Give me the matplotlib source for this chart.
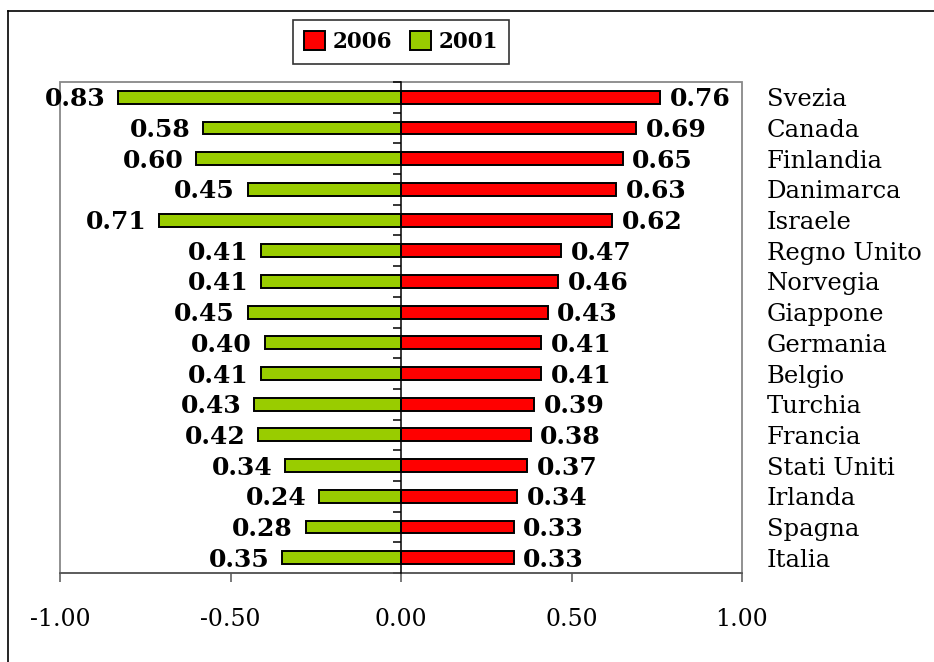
import matplotlib
matplotlib.use("Agg")
import matplotlib.pyplot as plt
from matplotlib.patches import Rectangle
from matplotlib.lines import Line2D
from matplotlib.transforms import blended_transform_factory

countries = ["Svezia", "Canada", "Finlandia", "Danimarca", "Israele",
             "Regno Unito", "Norvegia", "Giappone", "Germania", "Belgio",
             "Turchia", "Francia", "Stati Uniti", "Irlanda", "Spagna", "Italia"]
values_2006 = [0.76, 0.69, 0.65, 0.63, 0.62, 0.47, 0.46, 0.43,
               0.41, 0.41, 0.39, 0.38, 0.37, 0.34, 0.33, 0.33]
values_2001 = [0.83, 0.58, 0.60, 0.45, 0.71, 0.41, 0.41, 0.45,
               0.40, 0.41, 0.43, 0.42, 0.34, 0.24, 0.28, 0.35]
series_names = ["2006", "2001"]
x_ticks = [-1.0, -0.5, 0.0, 0.5, 1.0]
x_tick_labels = ["-1.00", "-0.50", "0.00", "0.50", "1.00"]

RED = "#FF0000"
GREEN = "#99CC00"
SERIF = "DejaVu Serif"

W, H = 934, 662
fig = plt.figure(figsize=(W / 100, H / 100), dpi=100)
fig.patch.set_facecolor("white")

# outer frame (left and top edges visible)
fig.add_artist(Line2D([8 / W, 8 / W], [0, 1 - 11 / H], transform=fig.transFigure,
                      color="black", lw=1.2))
fig.add_artist(Line2D([8 / W, 1], [1 - 11 / H, 1 - 11 / H], transform=fig.transFigure,
                      color="black", lw=1.2))

ax = fig.add_axes([60 / W, 1 - 573 / H, 682 / W, 491 / H])

n = len(countries)
ypos = list(range(n))
bar_h = 0.42

bars_new = ax.barh(ypos, values_2006, height=bar_h, color=RED,
                   edgecolor="black", linewidth=1.4, zorder=3, label=series_names[0])
bars_old = ax.barh(ypos, [-v for v in values_2001], height=bar_h, color=GREEN,
                   edgecolor="black", linewidth=1.4, zorder=3, label=series_names[1])

ax.set_xlim(-1.0, 1.0)
ax.set_ylim(n - 0.5, -0.5)

# value labels
for y, v in zip(ypos, values_2006):
    ax.annotate(f"{v:.2f}", xy=(v, y), xytext=(7, -6.5), textcoords="offset points",
                ha="left", va="baseline", fontsize=18, fontweight="bold",
                family=SERIF, color="black", zorder=4)
for y, v in zip(ypos, values_2001):
    ax.annotate(f"{v:.2f}", xy=(-v, y), xytext=(-9, -6.5), textcoords="offset points",
                ha="right", va="baseline", fontsize=18, fontweight="bold",
                family=SERIF, color="black", zorder=4)

# country names to the right of the plot area
trans = blended_transform_factory(ax.transAxes, ax.transData)
for y, name in zip(ypos, countries):
    ax.annotate(name, xy=(707 / 682, y), xycoords=trans, xytext=(0, -6.5),
                textcoords="offset points", ha="left", va="baseline",
                fontsize=17.5, family=SERIF, color="black", annotation_clip=False)

# gray plot-area frame
ax.add_patch(Rectangle((0, 0), 1, 1, transform=ax.transAxes, fill=False,
                       edgecolor="#888888", linewidth=1.3, zorder=1, clip_on=False))

# axes: vertical axis at zero, ticks at category boundaries
for s in ["top", "right"]:
    ax.spines[s].set_visible(False)
ax.spines["left"].set_position(("data", 0))
ax.spines["left"].set_color("black")
ax.spines["left"].set_linewidth(1.1)
ax.spines["left"].set_zorder(5)
ax.spines["bottom"].set_color("#555555")
ax.spines["bottom"].set_linewidth(1.2)

ax.set_yticks([i - 0.5 for i in range(n + 1)])
ax.set_yticklabels([])
ax.tick_params(axis="y", direction="out", length=6, width=1.1, color="black")

ax.set_xticks(x_ticks)
ax.set_xticklabels(x_tick_labels, fontsize=17, family=SERIF)
ax.tick_params(axis="x", direction="out", length=6.5, width=1.1, color="#555555", pad=19)

leg = fig.legend(handles=[bars_new, bars_old], labels=series_names, loc="center",
                 bbox_to_anchor=(401 / W, 1 - 42 / H), ncol=2, frameon=True,
                 fancybox=False, edgecolor="#333333", framealpha=1,
                 prop={"family": SERIF, "weight": "bold", "size": 15.5},
                 handlelength=1.0, handleheight=1.0, handletextpad=0.35,
                 columnspacing=0.8, borderpad=0.5, borderaxespad=0)
leg.get_frame().set_linewidth(1.2)

fig.savefig("out.png", dpi=100, facecolor="white")
